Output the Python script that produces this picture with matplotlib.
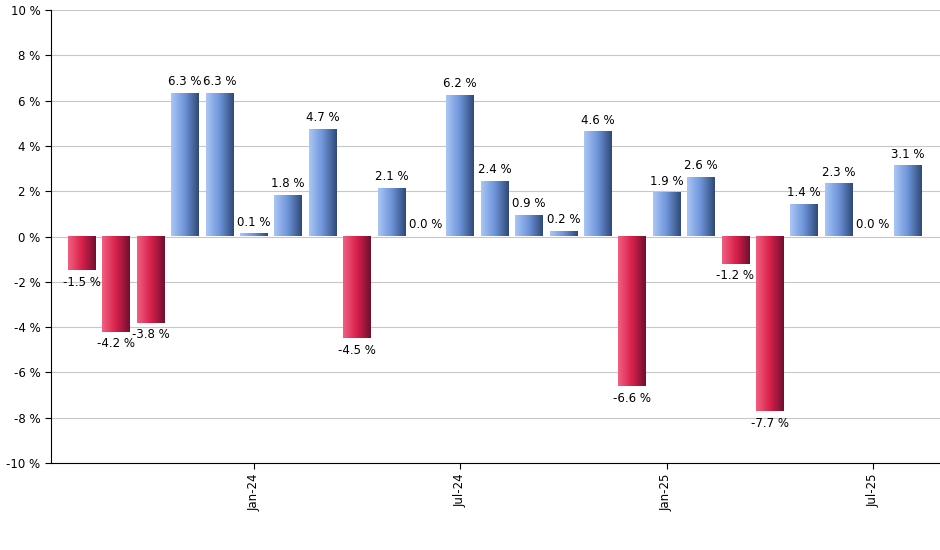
import numpy as np
import matplotlib.pyplot as plt
from matplotlib.colors import LinearSegmentedColormap

values = [-1.5, -4.2, -3.8, 6.3, 6.3, 0.1, 1.8, 4.7, -4.5, 2.1, 0.0, 6.2, 2.4,
          0.9, 0.2, 4.6, -6.6, 1.9, 2.6, -1.2, -7.7, 1.4, 2.3, 0.0, 3.1]
tick_pos = [5, 11, 17, 23]
tick_labels = ["Jan-24", "Jul-24", "Jan-25", "Jul-25"]

blue = LinearSegmentedColormap.from_list("b", ["#a9c6f5", "#6d93d8", "#2f4a78"])
red = LinearSegmentedColormap.from_list("r", ["#f06080", "#d8204a", "#701030"])
grad = np.linspace(0, 1, 64).reshape(1, -1)

fig = plt.figure(figsize=(9.4, 5.5), dpi=100)
ax = fig.add_axes([0.054, 0.158, 0.946, 0.824])
x = np.arange(len(values))
bars = ax.bar(x, values, width=0.8, color="none", zorder=2)
for b, v in zip(bars, values):
    x0, y0 = b.get_x(), b.get_y()
    w, h = b.get_width(), b.get_height()
    cm = blue if v >= 0 else red
    ax.imshow(grad, cmap=cm, aspect="auto", zorder=2,
              extent=[x0, x0 + w, y0, y0 + h], interpolation="bilinear")
    if v >= 0:
        ax.text(b.get_x() + w / 2, v + 0.25, f"{v:.1f} %", ha="center", va="bottom", fontsize=8.5)
    else:
        ax.text(b.get_x() + w / 2, v - 0.25, f"{v:.1f} %", ha="center", va="top", fontsize=8.5)

ax.set_xlim(-0.9, 24.95)
ax.set_ylim(-10, 10)
ax.set_yticks(range(-10, 11, 2))
ax.set_yticklabels([f"{t} %" for t in range(-10, 11, 2)], fontsize=8.5)
ax.set_xticks(tick_pos)
ax.set_xticklabels(tick_labels, rotation=90, fontsize=8.5)
ax.grid(axis="y", color="#c8c8c8", linewidth=0.8, zorder=0)
ax.set_axisbelow(True)
for s in ["top", "right"]:
    ax.spines[s].set_visible(False)
ax.tick_params(length=4)
fig.savefig("out.png", dpi=100)
